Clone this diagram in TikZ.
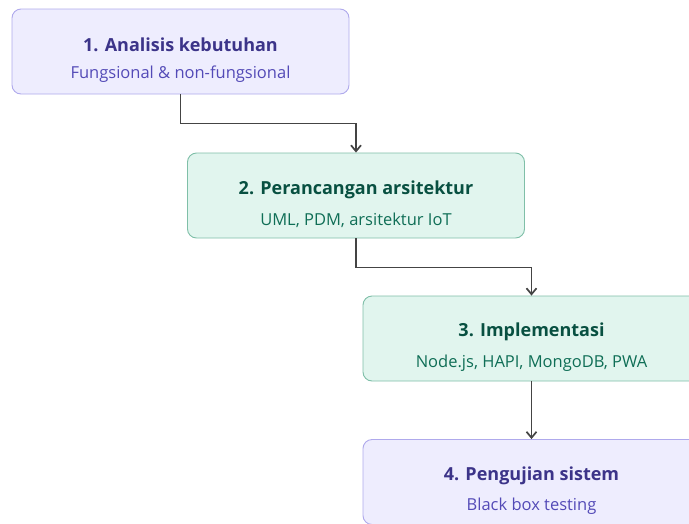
\documentclass[tikz,border=0pt]{standalone}
\usepackage{fontspec}
\setmainfont{Open Sans}
\usetikzlibrary{arrows.meta}

\definecolor{violetfill}{HTML}{EEEDFE}
\definecolor{violetline}{HTML}{AFA9EC}
\definecolor{violettitle}{HTML}{3C3489}
\definecolor{violettext}{HTML}{534AB7}
\definecolor{greenfill}{HTML}{E1F5EE}
\definecolor{greenline}{HTML}{7FBFA8}
\definecolor{greentitle}{HTML}{085041}
\definecolor{greentext}{HTML}{0F6E56}
\definecolor{flowline}{HTML}{444444}

\newcommand{\etitre}[1]{\rule{0pt}{31pt}{\fontsize{18}{21}\selectfont\bfseries #1}}
\newcommand{\edetail}[1]{{\fontsize{16.5}{19}\selectfont #1}}

\begin{document}
\begin{tikzpicture}[x=1pt, y=-1pt,
        etape/.style={draw, rounded corners=9pt, line width=0.9pt, minimum width=337pt, minimum height=85pt, align=center, inner sep=0pt},
        violet/.style={etape, fill=violetfill, draw=violetline},
        vert/.style={etape, fill=greenfill, draw=greenline},
        fleche/.style={-{Straight Barb[length=6pt, width=10pt]}, line width=1.7pt, draw=flowline}]
        % Cadre
        \useasboundingbox (0, 0) rectangle (689, 523);
        \clip (0, 0) rectangle (689, 523);

        % Etapes
        \node [violet] (analisis) at (180.5, 51.5) {\textcolor{violettitle}{\etitre{1. Analisis kebutuhan}}\\[13pt]
            \textcolor{violettext}{\edetail{Fungsional \& non-fungsional}}};
        \node [vert] (rancang) at (356, 195.5) {\textcolor{greentitle}{\etitre{2. Perancangan arsitektur}}\\[13pt]
            \textcolor{greentext}{\edetail{UML, PDM, arsitektur IoT}}};
        \node [vert] (implementasi) at (531.5, 338.5) {\textcolor{greentitle}{\etitre{3. Implementasi}}\\[13pt]
            \textcolor{greentext}{\edetail{Node.js, HAPI, MongoDB, PWA}}};
        \node [violet] (pengujian) at (531.5, 482) {\textcolor{violettitle}{\etitre{4. Pengujian sistem}}\\[13pt]
            \textcolor{violettext}{\edetail{Black box testing}}};

        % Fleches
        \draw [fleche] (analisis.south) -- ++(0, 29) -| (rancang.north);
        \draw [fleche] (rancang.south) -- ++(0, 29) -| (implementasi.north);
        \draw [fleche] (implementasi.south) -- (pengujian.north);
    \end{tikzpicture}
\end{document}
